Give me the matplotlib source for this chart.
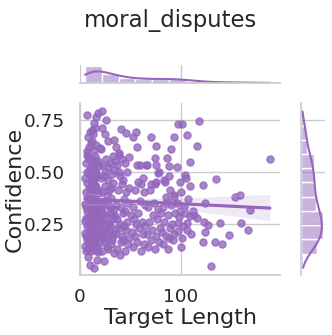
import matplotlib
matplotlib.use("Agg")
import matplotlib.pyplot as plt
import numpy as np
import pandas as pd
import seaborn as sns

# points, grouped by target length range
len_a = [10, 14, 8, 17,
         6, 9, 12, 15, 18, 7, 11, 13, 16, 19, 5, 10, 14, 17, 8,
         6, 9, 13, 15, 18, 7, 11, 12, 16, 19, 5, 10, 14, 17, 8, 12, 15, 20,
         5, 9, 12, 14, 18, 7, 11, 13, 16, 19, 6, 10, 15, 17, 8, 12, 20,
         6, 8, 12, 15, 17, 7, 11, 13, 16, 19, 5, 10, 14,
         6, 9, 12, 14, 18, 7, 11, 13, 16, 19, 8, 15,
         5, 9, 12, 15, 17, 7, 11, 13, 16, 10, 14,
         6, 9, 12, 15, 18, 7, 11, 13, 16, 19, 8, 14,
         7, 11, 16, 9, 14, 20, 12,
         12, 13, 8, 15, 10,
         7, 16, 18, 14]
conf_a = [.053, .038, .090, .075,
          .120, .150, .131, .160, .112, .170, .116, .146, .125, .155, .141, .165, .172, .138, .128,
          .192, .212, .181, .231, .200, .240, .225, .196, .215, .186, .206, .235, .201, .241, .180, .221, .190, .210,
          .262, .281, .250, .300, .271, .310, .290, .266, .285, .256, .276, .305, .261, .295, .251, .311, .280,
          .331, .352, .321, .370, .341, .376, .360, .336, .356, .326, .346, .371, .316,
          .401, .420, .391, .440, .410, .445, .430, .405, .425, .395, .386, .436,
          .470, .490, .460, .510, .480, .500, .456, .475, .495, .512, .466,
          .540, .560, .530, .575, .550, .580, .565, .521, .545, .526, .570, .555,
          .600, .640, .630, .620, .605, .615, .645,
          .700, .680, .665, .710, .690,
          .770, .765, .780, .735]

len_b = [24,
         22, 25, 28, 31, 34, 23, 27, 32,
         21, 24, 27, 30, 33, 22, 26, 29, 32, 35,
         21, 24, 27, 30, 33, 22, 26, 29, 32, 35,
         21, 24, 28, 31, 34, 23, 30,
         22, 25, 29, 33, 27, 31,
         21, 25, 28, 32, 24, 34,
         22, 26, 30, 33, 28, 35,
         21, 28, 34,
         22, 25,
         22, 26]
conf_b = [.070,
          .120, .160, .130, .150, .110, .175, .140, .170,
          .190, .220, .180, .240, .200, .230, .205, .215, .185, .225,
          .260, .290, .250, .300, .270, .310, .275, .255, .295, .285,
          .330, .360, .340, .375, .320, .350, .330,
          .400, .430, .410, .445, .390, .420,
          .470, .500, .460, .490, .480, .510,
          .530, .560, .540, .575, .520, .550,
          .610, .645, .650,
          .710, .680,
          .790, .750]

len_c = [40,
         37, 41, 45, 48, 43,
         36, 39, 42, 46, 49, 44,
         37, 40, 43, 47, 50, 45,
         36, 41, 44, 48,
         38, 42, 46, 49,
         40, 43, 47, 39,
         37, 39, 42, 45, 49,
         39, 36,
         41, 46]
conf_c = [.100,
          .130, .160, .120, .150, .170,
          .200, .230, .190, .220, .180, .240,
          .270, .250, .300, .260, .290, .310,
          .340, .330, .370, .350,
          .410, .440, .400, .420,
          .480, .460, .500, .500,
          .530, .580, .560, .540, .570,
          .590, .620,
          .705, .685]

len_d = [52, 56, 60, 63,
         51, 54, 58, 62, 64,
         53, 57, 61, 55,
         52, 59, 64,
         54, 60, 63,
         57, 62,
         56, 59, 65,
         56,
         52, 55]
conf_d = [.140, .160, .120, .150,
          .210, .190, .230, .200, .240,
          .270, .300, .260, .250,
          .330, .360, .340,
          .410, .440, .400,
          .450, .470,
          .530, .530, .530,
          .620,
          .665, .690]

len_e = [67, 70, 74, 78,
         66, 71, 75, 79,
         68, 72, 76, 80,
         67, 73, 77,
         69, 74, 70,
         75, 78, 77,
         66, 74, 75,
         75,
         70]
conf_e = [.140, .170, .130, .160,
          .200, .220, .190, .230,
          .260, .290, .270, .300,
          .330, .350, .320,
          .410, .440, .440,
          .450, .500, .495,
          .530, .565, .530,
          .622,
          .667]

len_f = [82, 87, 92,
         81, 85, 89, 93, 88,
         83, 87, 91, 94,
         82, 86, 90, 93,
         85, 89, 93,
         83, 88, 84,
         86, 88,
         90,
         93]
conf_f = [.150, .130, .170,
          .210, .190, .230, .200, .180,
          .260, .290, .250, .300,
          .330, .360, .340, .380,
          .380, .410, .390,
          .460, .480, .450,
          .565, .526,
          .609,
          .667]

len_g = [118, 97, 101, 106, 116, 188, 109, 104, 105, 135, 122, 99,
         158, 153, 124, 168, 99, 104, 109, 116, 123, 127, 139, 159,
         166, 148, 124, 122, 134, 141, 130, 97, 106, 97, 106, 101,
         112, 113, 100, 110, 96, 98, 103, 107, 100, 96, 102, 109]
conf_g = [.745, .731, .731, .678, .622, .562, .545, .482, .469, .466, .437, .450,
          .389, .376, .348, .317, .309, .301, .285, .277, .256, .242, .253, .253,
          .221, .197, .210, .162, .162, .152, .046, .253, .253, .213, .221, .181,
          .310, .290, .400, .200, .350, .280, .330, .370, .140, .520, .240, .430]

df = pd.DataFrame({
    "Target Length": len_a + len_b + len_c + len_d + len_e + len_f + len_g,
    "Confidence": conf_a + conf_b + conf_c + conf_d + conf_e + conf_f + conf_g,
})

sns.set_theme(style="whitegrid", font_scale=1.2)
purple = "#9467bd"

g = sns.jointplot(data=df, x="Target Length", y="Confidence", kind="reg",
                  color=purple, height=3.3, seed=0,
                  scatter_kws={"s": 26})
fig = g.figure
fig.set_size_inches(3.32, 3.35)

W, H = 332, 335
ax = g.ax_joint
ax.set_position([80 / W, (H - 275) / H, 200 / W, 172 / H])
g.ax_marg_x.set_position([80 / W, (H - 83) / H, 200 / W, 18 / H])
g.ax_marg_y.set_position([300.5 / W, (H - 275) / H, 24 / W, 172 / H])

ax.set_xlim(0, 198)
ax.set_ylim(0.003, 0.83)
ax.set_xticks([0, 100])
ax.set_yticks([0.25, 0.50, 0.75])
ax.tick_params(axis="y", pad=5)

ax.set_xlabel("Target Length", fontsize=16)
ax.set_ylabel("Confidence", fontsize=16)
ax.xaxis.set_label_coords(0.5, -0.19)
ax.yaxis.set_label_coords(-0.275, 0.5)

fig.suptitle("moral_disputes", x=171 / W, y=(H - 21) / H, va="center", fontsize=16.4)

fig.savefig("out.png", dpi=100)
